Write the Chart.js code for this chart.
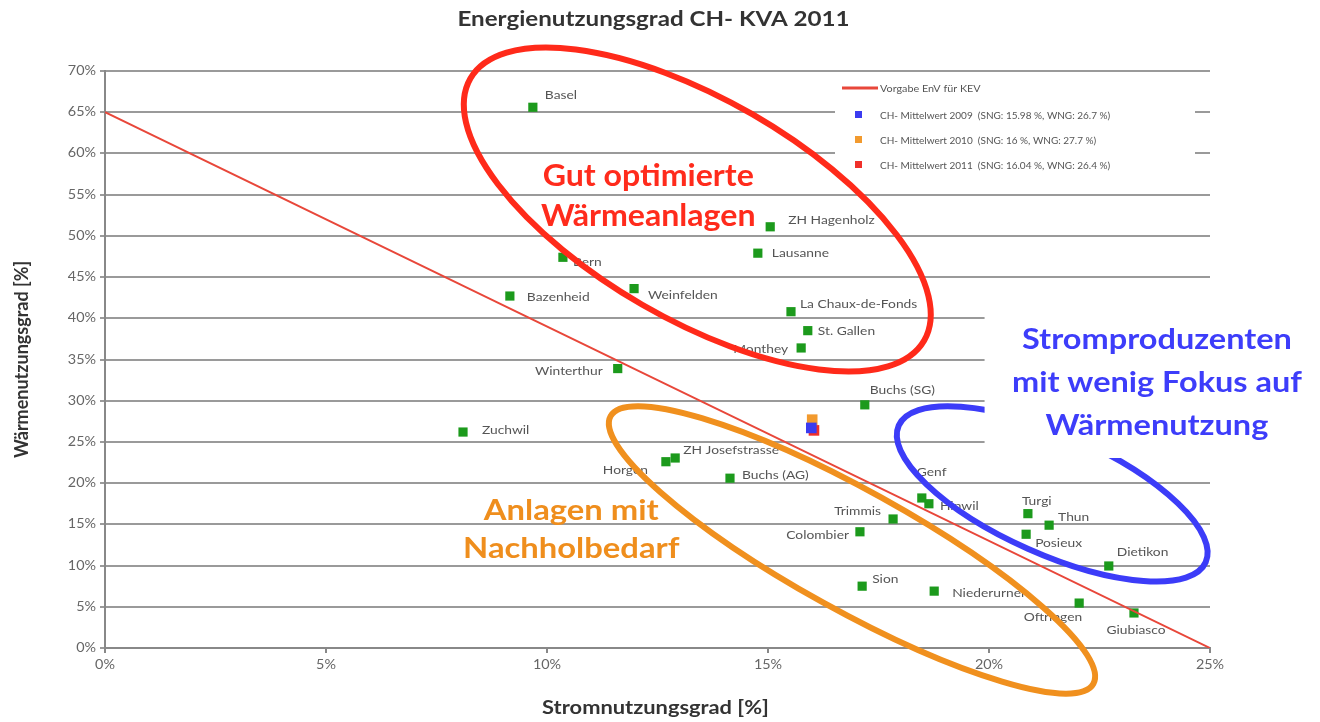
<!DOCTYPE html>
<html>
<head>
<meta charset="utf-8">
<script src="https://cdn.jsdelivr.net/npm/chart.js@4.4.1/dist/chart.umd.min.js"></script>
<style>
  body { margin: 0; background: #fff; }
  #chart { display: block; }
</style>
</head>
<body>
<canvas id="chart" width="1320" height="722"></canvas>
<script>
// Anlagen (KVA) – Stromnutzungsgrad (x) und Wärmenutzungsgrad (y) in %
const plantNames = ['Basel', 'ZH Hagenholz', 'Lausanne', 'Bern', 'Bazenheid', 'Weinfelden',
  'La Chaux-de-Fonds', 'St. Gallen', 'Monthey', 'Winterthur', 'Buchs (SG)', 'Zuchwil',
  'ZH Josefstrasse', 'Horgen', 'Buchs (AG)', 'Genf', 'Hinwil', 'Trimmis', 'Colombier',
  'Turgi', 'Thun', 'Posieux', 'Dietikon', 'Sion', 'Niederurnen', 'Oftringen', 'Giubiasco'];
const strom = [9.68, 15.05, 14.77, 10.36, 9.16, 11.97, 15.52, 15.9, 15.75, 11.6, 17.19, 8.1,
  12.9, 12.69, 14.14, 18.48, 18.64, 17.83, 17.08, 20.88, 21.36, 20.84, 22.71, 17.13, 18.76, 22.04, 23.28];
const waerme = [65.6, 51.1, 47.9, 47.4, 42.7, 43.6, 40.8, 38.5, 36.4, 33.9, 29.5, 26.2,
  23.05, 22.6, 20.6, 18.2, 17.5, 15.65, 14.1, 16.3, 14.9, 13.8, 9.95, 7.5, 6.9, 5.45, 4.25];

// Vorgabe EnV für KEV (Gerade)
const vorgabeX = [0, 25];
const vorgabeY = [65, 0];

// CH-Mittelwerte
const meanLabels = ['CH- Mittelwert 2009  (SNG: 15.98 %, WNG: 26.7 %)',
  'CH- Mittelwert 2010  (SNG: 16 %, WNG: 27.7 %)',
  'CH- Mittelwert 2011  (SNG: 16.04 %, WNG: 26.4 %)'];
const meanX = [15.98, 16, 16.04];
const meanY = [26.7, 27.7, 26.4];
const meanColors = ['#3b3bf0', '#f29a2e', '#f0302a'];

const xTicks = [0, 5, 10, 15, 20, 25];
const yTicks = [0, 5, 10, 15, 20, 25, 30, 35, 40, 45, 50, 55, 60, 65, 70];

// label placement per plant: [dx, dy, align] (style only)
const labelPlace = [[12, -12, 'left'], [18, -7, 'left'], [14, 0, 'left'], [10, 5, 'left'],
  [17, 1, 'left'], [14, 7, 'left'], [9, -8, 'left'], [10, 0, 'left'], [-13, 1, 'right'],
  [-15, 3, 'right'], [5, -15, 'left'], [19, -2, 'left'], [8, -8, 'left'], [-18, 8, 'right'],
  [12, -3, 'left'], [-5, -26, 'left'], [11, 2, 'left'], [-12, -8, 'right'], [-11, 3, 'right'],
  [-6, -13, 'left'], [9, -8, 'left'], [9, 9, 'left'], [8, -14, 'left'], [10, -7, 'left'],
  [18, 2, 'left'], [3, 14, 'right'], [2, 17, 'center']];

const FONT = 'Lato, "Open Sans", sans-serif';
const STRETCH = 1.15; // the reference text is a bit wider than Lato

// hand-drawn annotation ellipses: center in data units, size in px
const ellipses = [
  { cx: 13.4, cy: 53.2, a: 262, b: 110, angle: 30, color: '#ff2a1a' },
  { cx: 16.9, cy: 11.9, a: 276, b: 60, angle: 29, color: '#f0901e' },
  { cx: 21.43, cy: 18.7, a: 168, b: 60, angle: 24, color: '#3c3cf8' }
];
const notes = [
  { lines: ['Gut optimierte', 'Wärmeanlagen'], x: 12.29, y: 57.2, color: '#ff2b1c', size: 30, sx: 1.07, lh: 40 },
  { lines: ['Anlagen mit', 'Nachholbedarf'], x: 10.55, y: 16.7, color: '#ef8e1d', size: 29, sx: 1.13, lh: 38 },
  { lines: ['Stromproduzenten', 'mit wenig Fokus auf', 'Wärmenutzung'], x: 23.8, y: 37.4, color: '#3d3dfa', size: 29, sx: 1.12, lh: 43 }
];

const plantData = strom.map((v, i) => ({ x: v, y: waerme[i] }));

function wideText(ctx, text, x, y, sx) {
  ctx.save();
  ctx.translate(x, y);
  ctx.scale(sx, 1);
  ctx.fillText(text, 0, 0);
  ctx.restore();
}

const overlay = {
  id: 'overlay',
  afterDatasetsDraw(chart) {
    const ctx = chart.ctx;
    const xs = chart.scales.x, ys = chart.scales.y;
    const area = chart.chartArea;
    ctx.save();
    ctx.textBaseline = 'middle';

    // tick labels
    ctx.font = '12.5px ' + FONT;
    ctx.fillStyle = '#666';
    ctx.textAlign = 'right';
    yTicks.forEach(v => wideText(ctx, v + '%', area.left - 9, ys.getPixelForValue(v), STRETCH));
    ctx.textAlign = 'center';
    xTicks.forEach(v => wideText(ctx, v + '%', xs.getPixelForValue(v), area.bottom + 17, STRETCH));

    // plant labels
    ctx.font = '12px ' + FONT;
    ctx.fillStyle = '#555';
    plantNames.forEach((n, i) => {
      const p = labelPlace[i];
      ctx.textAlign = p[2];
      wideText(ctx, n, xs.getPixelForValue(strom[i]) + p[0], ys.getPixelForValue(waerme[i]) + p[1], STRETCH);
    });

    // legend box
    const lx = area.right - 375, ly = area.top + 5;
    ctx.fillStyle = '#fff';
    ctx.fillRect(lx, ly, 360, 103);
    ctx.strokeStyle = '#e8473a';
    ctx.lineWidth = 3;
    ctx.beginPath();
    ctx.moveTo(lx + 7, ly + 12);
    ctx.lineTo(lx + 43, ly + 12);
    ctx.stroke();
    ctx.font = '10px ' + FONT;
    ctx.fillStyle = '#555';
    ctx.textAlign = 'left';
    wideText(ctx, 'Vorgabe EnV für KEV', lx + 45, ly + 13, 1.08);
    meanLabels.forEach((t, i) => {
      const yy = ly + 39 + i * 25;
      ctx.fillStyle = meanColors[i];
      ctx.fillRect(lx + 20, yy - 4, 7, 7);
      ctx.fillStyle = '#555';
      ctx.fillText(t, lx + 45, yy + 1);
    });

    // ellipses
    ellipses.forEach(e => {
      ctx.strokeStyle = e.color;
      ctx.lineWidth = 6;
      ctx.beginPath();
      ctx.ellipse(xs.getPixelForValue(e.cx), ys.getPixelForValue(e.cy), e.a, e.b,
        e.angle * Math.PI / 180, 0, Math.PI * 2);
      ctx.stroke();
    });

    // white backing behind blue note
    ctx.fillStyle = '#fff';
    const bx = xs.getPixelForValue(19.9);
    ctx.fillRect(bx, ys.getPixelForValue(43.4), chart.width - bx, ys.getPixelForValue(23.05) - ys.getPixelForValue(43.4));

    // notes
    ctx.textAlign = 'center';
    notes.forEach(n => {
      ctx.fillStyle = n.color;
      ctx.font = 'bold ' + n.size + 'px ' + FONT;
      n.lines.forEach((l, i) => {
        wideText(ctx, l, xs.getPixelForValue(n.x), ys.getPixelForValue(n.y) + i * n.lh, n.sx);
      });
    });

    // titles
    ctx.fillStyle = '#333';
    ctx.font = 'bold 21px ' + FONT;
    wideText(ctx, 'Energienutzungsgrad CH- KVA 2011', (area.left + area.right) / 2 - 4, 19, STRETCH);
    ctx.font = 'bold 19px ' + FONT;
    wideText(ctx, 'Stromnutzungsgrad [%]', (area.left + area.right) / 2 - 2, 708, STRETCH);
    ctx.translate(22, (area.top + area.bottom) / 2);
    ctx.rotate(-Math.PI / 2);
    ctx.font = 'bold 18px ' + FONT;
    ctx.fillText('Wärmenutzungsgrad [%]', 0, 0);
    ctx.restore();
  }
};

new Chart(document.getElementById('chart'), {
  type: 'scatter',
  data: {
    datasets: [
      {
        type: 'line',
        label: 'Vorgabe EnV für KEV',
        data: vorgabeX.map((v, i) => ({ x: v, y: vorgabeY[i] })),
        borderColor: '#e8473a',
        borderWidth: 2,
        pointRadius: 0,
        fill: false
      },
      ...meanLabels.map((l, i) => ({
        label: l,
        data: [{ x: meanX[i], y: meanY[i] }],
        pointStyle: 'rect',
        radius: 7.5,
        borderWidth: 0,
        backgroundColor: meanColors[i]
      })),
      {
        label: 'KVA',
        data: plantData,
        pointStyle: 'rect',
        radius: 6.5,
        borderWidth: 0,
        backgroundColor: '#1c9a1c'
      }
    ]
  },
  options: {
    responsive: false,
    animation: false,
    devicePixelRatio: 1,
    layout: { padding: { left: 0, right: 110, top: 71, bottom: 0 } },
    plugins: { legend: { display: false }, tooltip: { enabled: false } },
    scales: {
      x: {
        type: 'linear', min: 0, max: 25,
        afterFit: s => { s.height = 74; },
        afterBuildTicks: s => { s.ticks = xTicks.map(v => ({ value: v })); },
        ticks: { color: 'rgba(0,0,0,0)', font: { family: FONT, size: 11 }, padding: 4 },
        grid: { drawOnChartArea: false, drawTicks: true, tickLength: 5, color: '#888', lineWidth: 2 },
        border: { color: '#888', width: 2 }
      },
      y: {
        min: 0, max: 70,
        afterFit: s => { s.width = 105; },
        afterBuildTicks: s => { s.ticks = yTicks.map(v => ({ value: v })); },
        ticks: { color: 'rgba(0,0,0,0)', font: { family: FONT, size: 11 }, padding: 4 },
        grid: { color: '#9a9a9a', lineWidth: 2, tickLength: 5 },
        border: { color: '#888', width: 2 }
      }
    }
  },
  plugins: [overlay]
});
</script>
</body>
</html>
